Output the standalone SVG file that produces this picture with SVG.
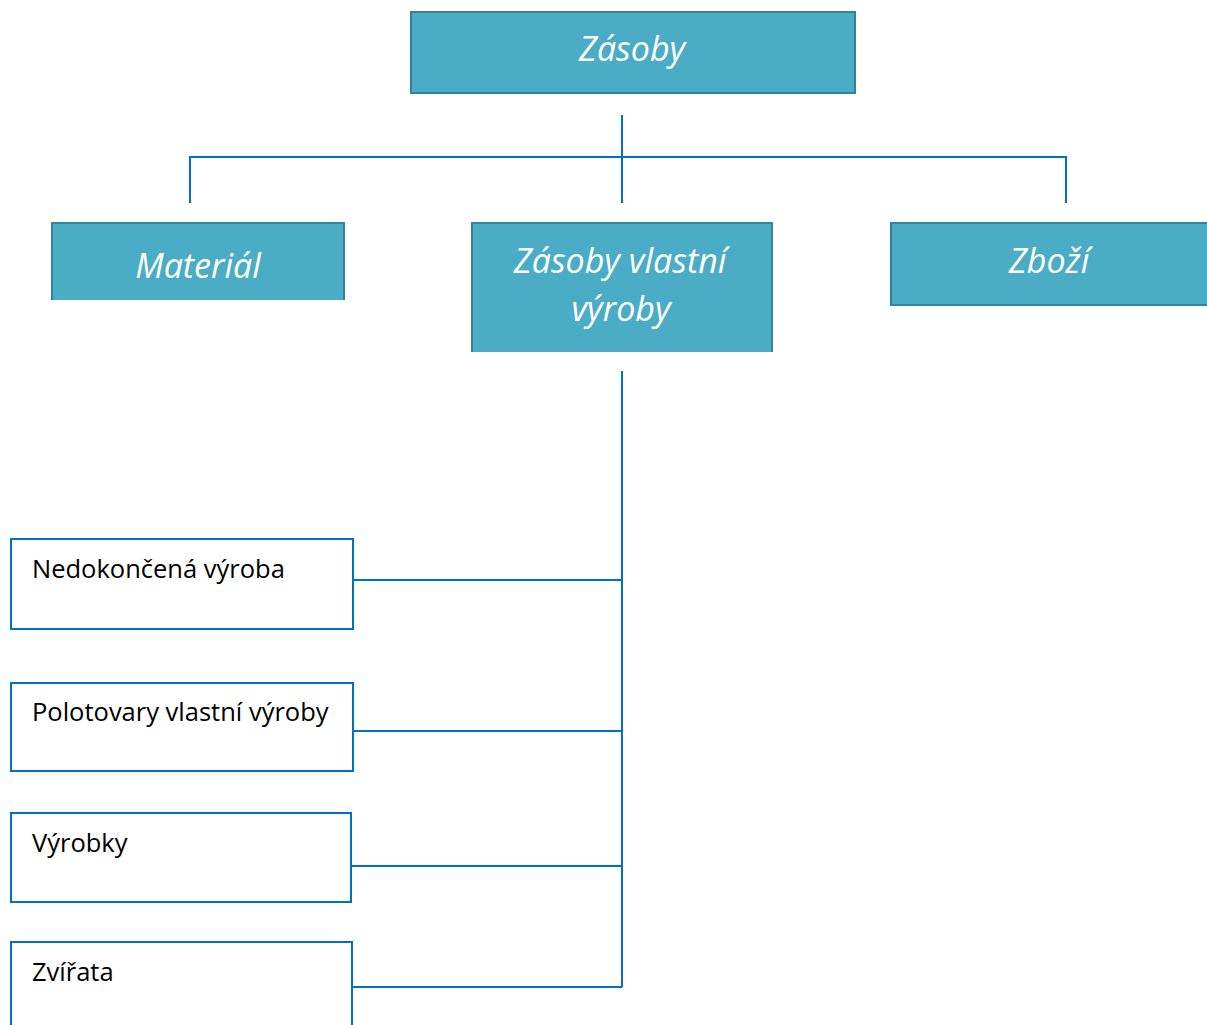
<svg xmlns="http://www.w3.org/2000/svg" width="1207" height="1025" viewBox="0 0 1207 1025">
  <style>
    .head { fill: #4bacc6; }
    .head-edge { fill: none; stroke: #31849b; stroke-width: 2; }
    .head-text { font-family: "Open Sans", "Noto Sans", sans-serif; font-style: italic; font-size: 34px; fill: #ffffff; text-anchor: middle; }
    .leaf { fill: #ffffff; stroke: #0070c0; stroke-width: 2; }
    .leaf-text { font-family: "Open Sans", "Noto Sans", sans-serif; font-size: 25.5px; fill: #000000; }
    .wire { fill: none; stroke: #0070c0; stroke-width: 2; }
  </style>
  <rect width="1207" height="1025" fill="#ffffff"/>

  <!-- connectors -->
  <g id="connectors">
    <path class="wire" d="M622 115 V203 M190 203 V157 H1066 V203"/>
    <path class="wire" d="M622 371 V987 M354 580 H622 M354 731 H622 M352 866 H622 M353 987 H622"/>
  </g>

  <!-- top level -->
  <g id="node-zasoby">
    <rect class="head" x="411" y="12" width="444" height="81"/>
    <rect class="head-edge" x="411" y="12" width="444" height="81"/>
    <text class="head-text" x="632" y="61">Zásoby</text>
  </g>

  <!-- second level -->
  <g id="node-material">
    <rect class="head" x="52" y="223" width="292" height="77"/>
    <path class="head-edge" d="M52 300 V223 H344 V300"/>
    <text class="head-text" x="198" y="278">Materiál</text>
  </g>
  <g id="node-vlastni">
    <rect class="head" x="472" y="223" width="300" height="129"/>
    <path class="head-edge" d="M472 352 V223 H772 V352"/>
    <text class="head-text" x="620" y="273">Zásoby vlastní</text>
    <text class="head-text" x="621" y="321">výroby</text>
  </g>
  <g id="node-zbozi">
    <rect class="head" x="891" y="223" width="320" height="82"/>
    <rect class="head-edge" x="891" y="223" width="320" height="82"/>
    <text class="head-text" x="1049" y="273">Zboží</text>
  </g>

  <!-- own production items -->
  <g id="node-nedokoncena">
    <rect class="leaf" x="11" y="539" width="342" height="90"/>
    <text class="leaf-text" x="32" y="578">Nedokončená výroba</text>
  </g>
  <g id="node-polotovary">
    <rect class="leaf" x="11" y="683" width="342" height="88"/>
    <text class="leaf-text" x="32" y="721">Polotovary vlastní výroby</text>
  </g>
  <g id="node-vyrobky">
    <rect class="leaf" x="11" y="813" width="340" height="89"/>
    <text class="leaf-text" x="32" y="852">Výrobky</text>
  </g>
  <g id="node-zvirata">
    <rect class="leaf" x="11" y="942" width="341" height="100"/>
    <text class="leaf-text" x="32" y="981">Zvířata</text>
  </g>
</svg>
